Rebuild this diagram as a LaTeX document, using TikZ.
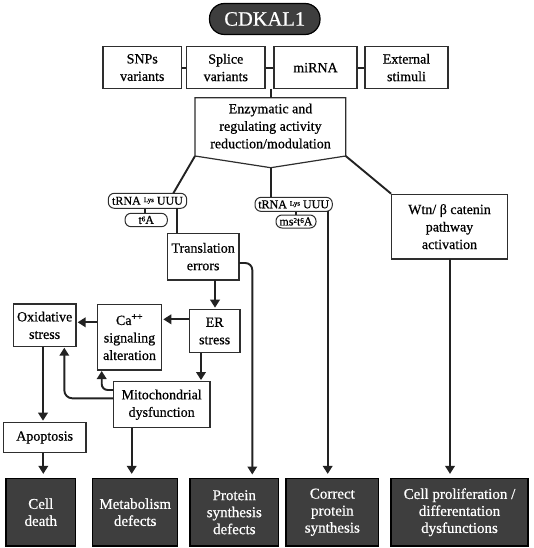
\documentclass[tikz,border=0pt]{standalone}
\usepackage{fontspec}
\setmainfont{Liberation Serif}[FakeBold=0.6]
\usetikzlibrary{arrows.meta}
\definecolor{darkc}{HTML}{3E3E3E}
\definecolor{linec}{HTML}{222222}
\definecolor{boxc}{HTML}{2E2E2E}
\newcommand{\supsm}[1]{\raisebox{2.6pt}{\fontsize{7}{7}\selectfont #1}}
\begin{document}
\begin{tikzpicture}[x=1pt,y=-1pt,
  box/.style={draw=boxc, line width=1.2pt, fill=white, inner sep=0pt, align=center,
    font=\fontsize{14}{17.5}\selectfont},
  dark/.style={box, fill=darkc, draw=black, text=white, font=\fontsize{15}{17}\selectfont},
  pill/.style={draw=boxc, line width=1pt, rounded corners=6pt, fill=white, inner sep=0pt,
    font=\fontsize{12}{12}\selectfont},
  pilldark/.style={draw=black, line width=1.2pt, fill=darkc, text=white, rounded corners=15pt,
    inner sep=0pt, font=\fontsize{20.5}{20.5}\selectfont},
  txt/.style={inner sep=0pt, align=center, font=\fontsize{14}{17.5}\selectfont},
  conn/.style={draw=linec, line width=1.9pt},
  thin/.style={draw=linec, line width=1.2pt},
  arrow/.style={conn, -{Triangle[length=8pt,width=9.5pt]}, shorten >=1pt},
  arrowb/.style={arrow, shorten >=4pt},
  shapeline/.style={draw=boxc, line width=1.2pt, fill=white}
]
\useasboundingbox (0,0) rectangle (534,548);

% title
\node[pilldark, minimum width=110.5pt, minimum height=31pt] (cdk) at (264.75,19) {CDKAL1};

% top row
\node[box, minimum width=78.5pt, minimum height=42pt] (snp) at (142.25,67.6) {SNPs\\variants};
\node[box, minimum width=78.4pt, minimum height=42pt] (spl) at (225.8,67.6) {Splice\\variants};
\node[box, minimum width=83pt, minimum height=42pt] (mir) at (315.5,67.6) {miRNA};
\node[box, minimum width=83pt, minimum height=42pt] (ext) at (406.5,67.6) {External\\stimuli};
\draw[conn] (snp.east) -- (spl.west);
\draw[conn] (spl.east) -- (mir.west);
\draw[conn] (mir.east) -- (ext.west);

% pentagon
\draw[shapeline] (195,97.7) coordinate (pTL) -- (345.7,97.7) coordinate (pTR)
  -- (345.7,156) coordinate (pBR) -- (270.7,167.7) coordinate (pB)
  -- (195,156) coordinate (pBL) -- cycle;
\node[txt] (enz) at (270.5,126) {Enzymatic and\\regulating activity\\reduction/modulation};
\coordinate (stub) at (270.7,88.6);
\draw[conn] (stub) -- (stub |- pTL);

% pill links (drawn first, behind the pills)
\coordinate (t6top) at (145,214);
\coordinate (mstop) at (296,215.5);
\draw[thin] (t6top) -- (t6top |- 0,207);
\draw[thin] (mstop) -- (mstop |- 0,210);

% pills
\node[pill, minimum width=78.4pt, minimum height=15pt] (tl) at (147.5,200.8)
  {tRNA \supsm{Lys} UUU};
\node[pill, minimum width=42.3pt, minimum height=13.4pt] (t6) at (146.2,220) {t\supsm{6}A};
\node[pill, minimum width=77.3pt, minimum height=14pt] (tr) at (293.65,204.35)
  {tRNA \supsm{Lys} UUU};
\node[pill, minimum width=40pt, minimum height=13pt] (ms) at (296,221.5) {ms\supsm{2}t\supsm{6}A};

% right box
\node[box, minimum width=115.6pt, minimum height=64.7pt] (wtn) at (449.5,226.65) {Wtn/ β catenin\\pathway\\activation};

% middle boxes
\node[box, minimum width=71.7pt, minimum height=46.7pt] (trn) at (203.15,256.65) {Translation\\errors};
\node[box, minimum width=50.7pt, minimum height=43.4pt] (er) at (214.65,331) {ER\\stress};
\node[box, minimum width=64.4pt, minimum height=65.7pt] (ca) at (129.5,337.15) {Ca\textsuperscript{++}\\signaling\\alteration};
\node[box, minimum width=62.7pt, minimum height=42.7pt] (ox) at (44.65,325.35) {Oxidative\\stress};
\node[box, minimum width=96.7pt, minimum height=46pt] (mito) at (161.65,404.7) {Mitochondrial\\dysfunction};
\node[box, minimum width=82.7pt, minimum height=30.4pt] (apo) at (44.65,437.5) {Apoptosis};

% bottom boxes
\node[dark, minimum width=69.6pt, minimum height=67.5pt] (cd) at (40.8,512.25) {Cell\\death};
\node[dark, minimum width=85.2pt, minimum height=67.5pt] (met) at (135.2,512.25) {Metabolism\\defects};
\node[dark, minimum width=88.6pt, minimum height=67.5pt] (psd) at (234.3,512.25) {Protein\\synthesis\\defects};
\node[dark, minimum width=92.7pt, minimum height=67.5pt] (cps) at (332.35,512.25) {Correct\\protein\\synthesis};
\node[dark, minimum width=137pt, minimum height=67.5pt] (cpd) at (459.5,512.25) {Cell proliferation /\\differentation\\dysfunctions};

% branches from pentagon
\coordinate (tlt) at (173.3,193.3);
\draw[conn] (pBL) -- (tlt);
\draw[conn] (pB) -- (pB |- tr.north);
\draw[conn] (pBR) -- (wtn.north west);
\coordinate (tlb) at (176.7,208.3);
\draw[conn] (tlb) -- (tlb |- trn.north);

% arrows
\coordinate (trr) at (239,263);
\coordinate (pst) at (252.3,478.5);
\draw[arrowb, rounded corners=7pt] (trr) -| (pst);
\coordinate (trb) at (215,280);
\draw[arrow] (trb) -- (trb |- er.north);
\coordinate (e1) at (189.3,319.3);
\draw[arrow] (e1) -- (e1 -| ca.east);
\coordinate (c2) at (97.3,322.3);
\draw[arrow] (c2) -- (c2 -| ox.east);
\coordinate (e2) at (201,352.7);
\draw[arrow] (e2) -- (e2 |- mito.north);
\coordinate (m1) at (113.3,390);
\coordinate (c1) at (101.7,370);
\draw[arrow, rounded corners=6pt] (m1) -| (c1);
\coordinate (m2) at (113.3,398.3);
\coordinate (o1) at (64.3,346.7);
\draw[arrow, rounded corners=8pt] (m2) -| (o1);
\coordinate (o2) at (43,346.7);
\draw[arrow] (o2) -- (o2 |- apo.north);
\coordinate (a2) at (43.3,452.7);
\draw[arrowb] (a2) -- (a2 |- cd.north);
\coordinate (m3) at (131.7,427.7);
\draw[arrowb] (m3) -- (m3 |- met.north);
\coordinate (rb) at (327.7,211.3);
\draw[arrowb] (rb) -- (rb |- cps.north);
\coordinate (wb) at (450,259);
\draw[arrowb] (wb) -- (wb |- cpd.north);
\end{tikzpicture}
\end{document}
